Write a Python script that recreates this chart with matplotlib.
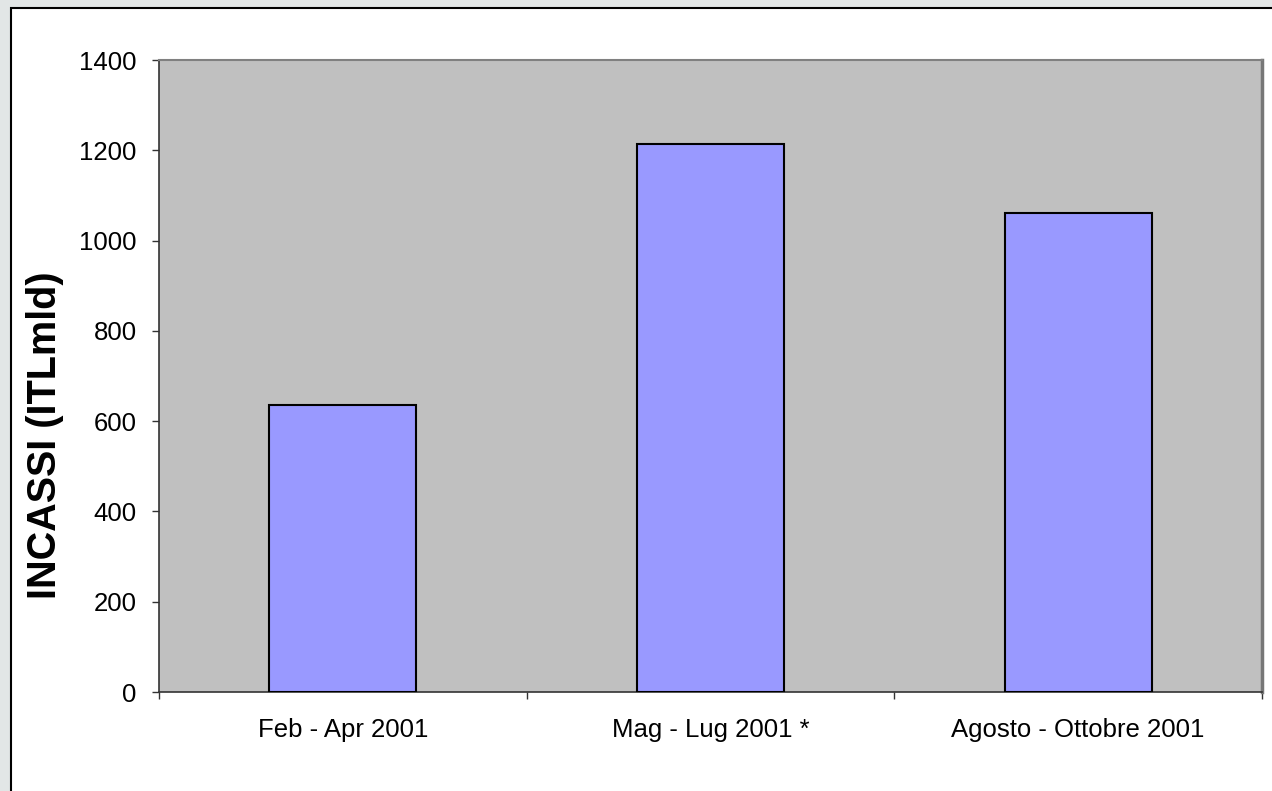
import numpy as np
import matplotlib
matplotlib.use("Agg")
import matplotlib.pyplot as plt
from matplotlib.patches import Rectangle

DPI = 100
W, H = 1272, 791

categories = ["Feb - Apr 2001", "Mag - Lug 2001 *", "Agosto - Ottobre 2001"]
incassi = [636, 1214, 1061]
yticks = [0, 200, 400, 600, 800, 1000, 1200, 1400]
ylabel = "INCASSI (ITLmld)"

plt.rcParams['font.family'] = ['Liberation Sans', 'DejaVu Sans']

fig = plt.figure(figsize=(W / DPI, H / DPI), dpi=DPI, facecolor='#e2e6e6')

# white chart frame with black border (extends past right/bottom edge)
frame = Rectangle((11 / W, -0.1), 1.2, (H - 8) / H + 0.1, transform=fig.transFigure,
                  facecolor='white', edgecolor='black', linewidth=1.5, zorder=-5)
fig.patches.append(frame)

ax = fig.add_axes([159 / W, 1 - 692 / H, (1262 - 159) / W, (692 - 60) / H])
ax.set_zorder(2)
ax.set_facecolor('#c0c0c0')

x = np.arange(len(categories))
ax.bar(x, incassi, width=0.4, color='#9999ff', edgecolor='black', linewidth=1.5, zorder=3)

ax.set_xlim(-0.5, len(categories) - 0.5)
ax.set_ylim(0, 1400)
ax.set_yticks(yticks)
ax.set_yticklabels([str(v) for v in yticks])

# ticks at category boundaries, labels at category centres
ax.set_xticks(np.arange(len(categories) + 1) - 0.5)
ax.set_xticklabels([])
ax.set_xticks(x, minor=True)
ax.set_xticklabels(categories, minor=True)
ax.tick_params(axis='x', which='major', direction='out', length=5, width=1, color='#333333')
ax.tick_params(axis='x', which='minor', length=0, pad=19, labelsize=18.5)
ax.tick_params(axis='y', direction='out', length=5, width=1, color='#333333', pad=11, labelsize=18.5)

ax.spines['top'].set_color('#808080')
ax.spines['top'].set_linewidth(1.5)
ax.spines['right'].set_color('#777777')
ax.spines['right'].set_linewidth(2.5)
for s in ['left', 'bottom']:
    ax.spines[s].set_color('#333333')
    ax.spines[s].set_linewidth(1.2)

fig.text(45 / W, 1 - 435 / H, ylabel, rotation=90, ha='center', va='center',
         fontsize=28.5, fontweight='bold', zorder=3)

plt.savefig('out.png', dpi=DPI, facecolor=fig.get_facecolor())
